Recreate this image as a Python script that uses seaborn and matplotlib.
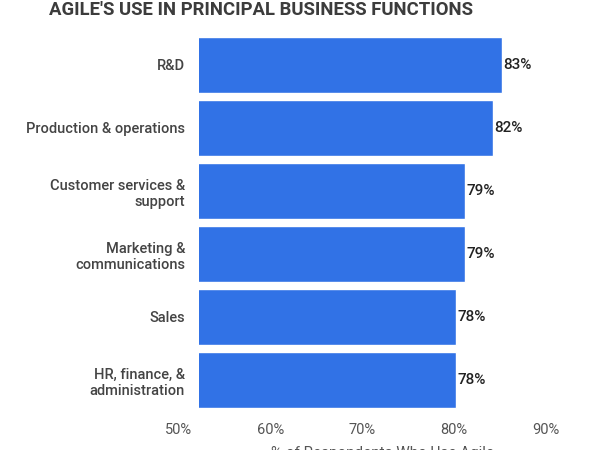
import matplotlib
matplotlib.use('Agg')
import matplotlib.pyplot as plt
import matplotlib.transforms as mtransforms
import seaborn as sns
import pandas as pd

# Data
functions = ['R&D', 'Production & operations', 'Customer services &\nsupport',
             'Marketing &\ncommunications', 'Sales', 'HR, finance, &\nadministration']
share = [83, 82, 79, 79, 78, 78]
tick_values = [50, 60, 70, 80, 90]

df = pd.DataFrame({'function': functions, 'share': share})

sns.set_style('white')
plt.rcParams['font.family'] = ['Roboto', 'DejaVu Sans']

fig = plt.figure(figsize=(6, 4.5), dpi=100)
ax = fig.add_axes([199/600, 1 - 411.5/450, (566 - 199)/600, 378/450])

sns.barplot(data=df, x='share', y='function', orient='h', color='#3172e6',
            width=0.9, saturation=1, ax=ax)

ax.set_xlim(50, 90)
ax.set_ylim(5.5, -0.5)
ax.set_xticks(tick_values)
ax.set_xticklabels([f'{v}%' for v in tick_values], fontsize=10.5, color='#555555')
ax.tick_params(axis='both', length=0)
ax.tick_params(axis='y', pad=10, labelsize=10.5, labelcolor='#444444')
for lab in ax.get_yticklabels():
    lab.set_horizontalalignment('right')
    lab.set_multialignment('right')
    lab.set_fontweight('medium')
ax.tick_params(axis='x', pad=8)

# tick labels sit a little left of the bar scale in the original
offset = mtransforms.ScaledTranslation(-0.2, 0, fig.dpi_scale_trans)
for lab in ax.get_xticklabels():
    lab.set_transform(lab.get_transform() + offset)

ax.set_ylabel('')
ax.set_xlabel('% of Respondents Who Use Agile', fontsize=11, color='#555555', labelpad=7)
sns.despine(ax=ax, left=True, bottom=True)

for i, v in enumerate(share):
    ax.text(v + 0.2, i, f'{v}%', va='center', ha='left', fontsize=11,
            fontweight='medium', color='#222222')

fig.text(261/600, 1 - 15/450, "AGILE'S USE IN PRINCIPAL BUSINESS FUNCTIONS",
         ha='center', va='baseline', fontsize=13.3, fontweight='bold', color='#3c3c3c')

fig.savefig('out.png', dpi=100)
